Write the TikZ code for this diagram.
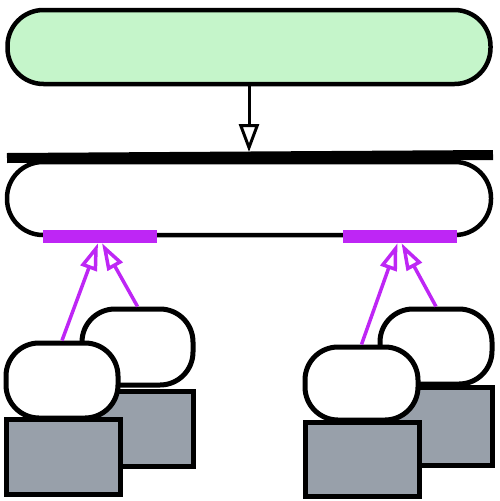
\documentclass[tikz,border=0pt]{standalone}
\usepackage{tikz}
\usetikzlibrary{arrows.meta, positioning, calc}

\definecolor{pillgreen}{RGB}{197,245,202}
\definecolor{slabgray}{RGB}{152,160,170}
\definecolor{portpurple}{RGB}{190,38,245}

\begin{document}
\begin{tikzpicture}[x=1pt, y=-1pt,
    bigpill/.style={draw, line width=4.5pt, rounded corners=36pt, inner sep=0pt},
    smallpill/.style={draw, line width=5pt, rounded corners=33pt, fill=white, inner sep=0pt},
    slab/.style={draw, line width=5pt, fill=slabgray, inner sep=0pt},
    port/.style={fill=portpurple, inner sep=0pt, minimum width=114pt, minimum height=13pt},
    link/.style={draw=portpurple, line width=3.5pt,
                 -{Triangle[open, length=27pt, width=17pt, line width=3.5pt]}}]
  \useasboundingbox (0,0) rectangle (499,501);

  % Boxes
  \node[bigpill, fill=pillgreen, minimum width=483pt, minimum height=74pt]
    (top) at (249,47) {};
  \node[bigpill, fill=white, minimum width=484pt, minimum height=73pt]
    (hub) at (249,198.5) {};

  % Bar on the hub
  \coordinate (barl) at (7,158);
  \coordinate (barr) at (493,155);
  \coordinate (bartop) at (249,152);
  \draw[line width=10pt] (barl) -- (barr);

  % Ports
  \node[port] (lport) at (100,236.5) {};
  \node[port] (rport) at (399.5,236.5) {};

  % Left group
  \node[smallpill, minimum width=111pt, minimum height=76pt] (lback) at (137.5,347) {};
  \node[slab, minimum width=111pt, minimum height=75pt] (lbackslab) at (137.5,428.5) {};
  \node[smallpill, minimum width=112pt, minimum height=75pt] (lfront) at (62,380.5) {};
  \node[slab, minimum width=114pt, minimum height=75pt] (lfrontslab) at (63,456.5) {};

  % Right group
  \node[smallpill, minimum width=112pt, minimum height=75pt] (rback) at (436,346.5) {};
  \node[slab, minimum width=112pt, minimum height=78pt] (rbackslab) at (436,426) {};
  \node[smallpill, minimum width=113pt, minimum height=73pt] (rfront) at (361.5,383.5) {};
  \node[slab, minimum width=114pt, minimum height=74pt] (rfrontslab) at (362,459) {};

  % Arrows
  \draw[line width=3pt, -{Triangle[open, length=28pt, width=20pt, line width=3pt]}]
    (top.south) -- (bartop);
  \draw[link] (lfront.north) -- ([xshift=-2pt]lport.south);
  \draw[link] (lback.north) -- ([xshift=2pt]lport.south);
  \draw[link] (rfront.north) -- ([xshift=-2pt]rport.south);
  \draw[link] (rback.north) -- ([xshift=2pt]rport.south);
\end{tikzpicture}
\end{document}
